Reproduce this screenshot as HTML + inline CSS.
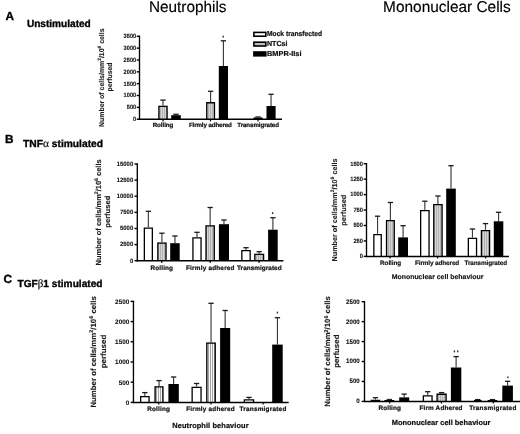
<!DOCTYPE html>
<html><head><meta charset="utf-8"><style>
html,body{margin:0;padding:0;background:#fff;}
body{width:520px;height:434px;overflow:hidden;}
svg{display:block;font-family:"Liberation Sans", sans-serif;filter:blur(0.35px);text-rendering:geometricPrecision;}
</style></head><body>
<svg width="520" height="434" viewBox="0 0 520 434">
<defs>
<pattern id="hatchB" patternUnits="userSpaceOnUse" width="2" height="4"><rect width="2" height="4" fill="#d6d6d6"/><rect width="0.6" height="4" fill="#9a9a9a"/></pattern>
<pattern id="hatchC" patternUnits="userSpaceOnUse" width="2" height="4"><rect width="2" height="4" fill="#f8f8f8"/><rect width="0.6" height="4" fill="#707070"/></pattern>
</defs>
<rect width="520" height="434" fill="#fff"/>
<line x1="136.70" y1="119.20" x2="139.50" y2="119.20" stroke="#000" stroke-width="1.4"/>
<text x="136.20" y="121.06" font-size="6.2" text-anchor="end" font-weight="bold" fill="#111" textLength="3.15" lengthAdjust="spacingAndGlyphs" stroke="#111" stroke-width="0.1">0</text>
<line x1="136.70" y1="107.36" x2="139.50" y2="107.36" stroke="#000" stroke-width="1.4"/>
<text x="136.20" y="109.22" font-size="6.2" text-anchor="end" font-weight="bold" fill="#111" textLength="9.45" lengthAdjust="spacingAndGlyphs" stroke="#111" stroke-width="0.1">500</text>
<line x1="136.70" y1="95.51" x2="139.50" y2="95.51" stroke="#000" stroke-width="1.4"/>
<text x="136.20" y="97.37" font-size="6.2" text-anchor="end" font-weight="bold" fill="#111" textLength="12.60" lengthAdjust="spacingAndGlyphs" stroke="#111" stroke-width="0.1">1000</text>
<line x1="136.70" y1="83.67" x2="139.50" y2="83.67" stroke="#000" stroke-width="1.4"/>
<text x="136.20" y="85.53" font-size="6.2" text-anchor="end" font-weight="bold" fill="#111" textLength="12.60" lengthAdjust="spacingAndGlyphs" stroke="#111" stroke-width="0.1">1500</text>
<line x1="136.70" y1="71.83" x2="139.50" y2="71.83" stroke="#000" stroke-width="1.4"/>
<text x="136.20" y="73.69" font-size="6.2" text-anchor="end" font-weight="bold" fill="#111" textLength="12.60" lengthAdjust="spacingAndGlyphs" stroke="#111" stroke-width="0.1">2000</text>
<line x1="136.70" y1="59.99" x2="139.50" y2="59.99" stroke="#000" stroke-width="1.4"/>
<text x="136.20" y="61.85" font-size="6.2" text-anchor="end" font-weight="bold" fill="#111" textLength="12.60" lengthAdjust="spacingAndGlyphs" stroke="#111" stroke-width="0.1">2500</text>
<line x1="136.70" y1="48.14" x2="139.50" y2="48.14" stroke="#000" stroke-width="1.4"/>
<text x="136.20" y="50.00" font-size="6.2" text-anchor="end" font-weight="bold" fill="#111" textLength="12.60" lengthAdjust="spacingAndGlyphs" stroke="#111" stroke-width="0.1">3000</text>
<line x1="136.70" y1="36.30" x2="139.50" y2="36.30" stroke="#000" stroke-width="1.4"/>
<text x="136.20" y="38.16" font-size="6.2" text-anchor="end" font-weight="bold" fill="#111" textLength="12.60" lengthAdjust="spacingAndGlyphs" stroke="#111" stroke-width="0.1">3500</text>
<line x1="163.00" y1="105.70" x2="163.00" y2="100.10" stroke="#3a3a3a" stroke-width="1.15"/>
<line x1="160.35" y1="100.10" x2="165.65" y2="100.10" stroke="#1a1a1a" stroke-width="1.3"/>
<rect x="158.30" y="105.70" width="9.40" height="13.50" fill="url(#hatchB)"/>
<path d="M158.95 119.20V106.35H167.05V119.20" fill="none" stroke="#000" stroke-width="1.3"/>
<line x1="176.00" y1="115.20" x2="176.00" y2="114.30" stroke="#3a3a3a" stroke-width="1.15"/>
<line x1="173.35" y1="114.30" x2="178.65" y2="114.30" stroke="#1a1a1a" stroke-width="1.3"/>
<rect x="171.20" y="115.20" width="9.60" height="4.00" fill="#000"/>
<line x1="210.60" y1="102.10" x2="210.60" y2="91.30" stroke="#3a3a3a" stroke-width="1.15"/>
<line x1="207.95" y1="91.30" x2="213.25" y2="91.30" stroke="#1a1a1a" stroke-width="1.3"/>
<rect x="206.10" y="102.10" width="9.00" height="17.10" fill="url(#hatchB)"/>
<path d="M206.75 119.20V102.75H214.45V119.20" fill="none" stroke="#000" stroke-width="1.3"/>
<line x1="223.40" y1="66.00" x2="223.40" y2="40.80" stroke="#3a3a3a" stroke-width="1.15"/>
<line x1="220.75" y1="40.80" x2="226.05" y2="40.80" stroke="#1a1a1a" stroke-width="1.3"/>
<rect x="218.80" y="66.00" width="9.20" height="53.20" fill="#000"/>
<line x1="258.00" y1="117.60" x2="258.00" y2="117.00" stroke="#3a3a3a" stroke-width="1.15"/>
<line x1="255.35" y1="117.00" x2="260.65" y2="117.00" stroke="#1a1a1a" stroke-width="1.3"/>
<rect x="253.50" y="117.60" width="9.00" height="1.60" fill="url(#hatchB)"/>
<path d="M254.15 119.20V118.25H261.85V119.20" fill="none" stroke="#000" stroke-width="1.3"/>
<line x1="271.05" y1="106.00" x2="271.05" y2="94.30" stroke="#3a3a3a" stroke-width="1.15"/>
<line x1="268.40" y1="94.30" x2="273.70" y2="94.30" stroke="#1a1a1a" stroke-width="1.3"/>
<rect x="266.50" y="106.00" width="9.10" height="13.20" fill="#000"/>
<line x1="139.50" y1="35.60" x2="139.50" y2="119.90" stroke="#000" stroke-width="1.35"/>
<line x1="138.80" y1="119.20" x2="282.00" y2="119.20" stroke="#000" stroke-width="1.5"/>
<line x1="163.00" y1="119.20" x2="163.00" y2="121.40" stroke="#000" stroke-width="1.2"/>
<line x1="210.50" y1="119.20" x2="210.50" y2="121.40" stroke="#000" stroke-width="1.2"/>
<line x1="258.00" y1="119.20" x2="258.00" y2="121.40" stroke="#000" stroke-width="1.2"/>
<text x="152.70" y="127.20" font-size="6.2" text-anchor="start" font-weight="bold" fill="#111" textLength="20.60" lengthAdjust="spacing" stroke="#111" stroke-width="0.22">Rolling</text>
<text x="188.90" y="127.20" font-size="6.2" text-anchor="start" font-weight="bold" fill="#111" textLength="42.90" lengthAdjust="spacing" stroke="#111" stroke-width="0.22">Firmly adhered</text>
<text x="237.30" y="127.20" font-size="6.2" text-anchor="start" font-weight="bold" fill="#111" textLength="41.70" lengthAdjust="spacing" stroke="#111" stroke-width="0.22">Transmigrated</text>
<ellipse cx="223.20" cy="36.70" rx="0.8" ry="1.15" fill="#3a3a3a"/>
<g transform="translate(101.40,77.70) rotate(-90)"><text x="0" y="2.52" font-size="7.0" font-weight="bold" text-anchor="middle" fill="#1a1a1a" stroke="#1a1a1a" stroke-width="0.12" textLength="98.50" lengthAdjust="spacingAndGlyphs">Number of cells/mm<tspan font-size="4.90" dy="-2.5">2</tspan><tspan dy="2.5">/10</tspan><tspan font-size="4.90" dy="-2.5">6</tspan><tspan dy="2.5"> cells</tspan></text></g>
<g transform="translate(109.80,77.00) rotate(-90)"><text x="0" y="2.52" font-size="7.0" font-weight="bold" text-anchor="middle" fill="#1a1a1a" stroke="#1a1a1a" stroke-width="0.12" textLength="29.00" lengthAdjust="spacingAndGlyphs">perfused</text></g>
<line x1="134.50" y1="260.70" x2="137.30" y2="260.70" stroke="#000" stroke-width="1.4"/>
<text x="133.20" y="262.56" font-size="6.2" text-anchor="end" font-weight="bold" fill="#111" textLength="3.30" lengthAdjust="spacingAndGlyphs" stroke="#111" stroke-width="0.1">0</text>
<line x1="134.50" y1="244.58" x2="137.30" y2="244.58" stroke="#000" stroke-width="1.4"/>
<text x="133.20" y="246.44" font-size="6.2" text-anchor="end" font-weight="bold" fill="#111" textLength="13.20" lengthAdjust="spacingAndGlyphs" stroke="#111" stroke-width="0.1">2500</text>
<line x1="134.50" y1="228.47" x2="137.30" y2="228.47" stroke="#000" stroke-width="1.4"/>
<text x="133.20" y="230.33" font-size="6.2" text-anchor="end" font-weight="bold" fill="#111" textLength="13.20" lengthAdjust="spacingAndGlyphs" stroke="#111" stroke-width="0.1">5000</text>
<line x1="134.50" y1="212.35" x2="137.30" y2="212.35" stroke="#000" stroke-width="1.4"/>
<text x="133.20" y="214.21" font-size="6.2" text-anchor="end" font-weight="bold" fill="#111" textLength="13.20" lengthAdjust="spacingAndGlyphs" stroke="#111" stroke-width="0.1">7500</text>
<line x1="134.50" y1="196.23" x2="137.30" y2="196.23" stroke="#000" stroke-width="1.4"/>
<text x="133.20" y="198.09" font-size="6.2" text-anchor="end" font-weight="bold" fill="#111" textLength="16.50" lengthAdjust="spacingAndGlyphs" stroke="#111" stroke-width="0.1">10000</text>
<line x1="134.50" y1="180.12" x2="137.30" y2="180.12" stroke="#000" stroke-width="1.4"/>
<text x="133.20" y="181.98" font-size="6.2" text-anchor="end" font-weight="bold" fill="#111" textLength="16.50" lengthAdjust="spacingAndGlyphs" stroke="#111" stroke-width="0.1">12500</text>
<line x1="134.50" y1="164.00" x2="137.30" y2="164.00" stroke="#000" stroke-width="1.4"/>
<text x="133.20" y="165.86" font-size="6.2" text-anchor="end" font-weight="bold" fill="#111" textLength="16.50" lengthAdjust="spacingAndGlyphs" stroke="#111" stroke-width="0.1">15000</text>
<line x1="148.35" y1="227.50" x2="148.35" y2="211.30" stroke="#3a3a3a" stroke-width="1.15"/>
<line x1="145.70" y1="211.30" x2="151.00" y2="211.30" stroke="#1a1a1a" stroke-width="1.3"/>
<rect x="143.70" y="227.50" width="9.30" height="33.20" fill="#fff"/>
<path d="M144.35 260.70V228.15H152.35V260.70" fill="none" stroke="#000" stroke-width="1.3"/>
<line x1="161.90" y1="242.40" x2="161.90" y2="233.20" stroke="#3a3a3a" stroke-width="1.15"/>
<line x1="159.25" y1="233.20" x2="164.55" y2="233.20" stroke="#1a1a1a" stroke-width="1.3"/>
<rect x="157.20" y="242.40" width="9.40" height="18.30" fill="url(#hatchB)"/>
<path d="M157.85 260.70V243.05H165.95V260.70" fill="none" stroke="#000" stroke-width="1.3"/>
<line x1="174.95" y1="243.20" x2="174.95" y2="236.00" stroke="#3a3a3a" stroke-width="1.15"/>
<line x1="172.30" y1="236.00" x2="177.60" y2="236.00" stroke="#1a1a1a" stroke-width="1.3"/>
<rect x="170.20" y="243.20" width="9.50" height="17.50" fill="#000"/>
<line x1="197.00" y1="237.20" x2="197.00" y2="232.30" stroke="#3a3a3a" stroke-width="1.15"/>
<line x1="194.35" y1="232.30" x2="199.65" y2="232.30" stroke="#1a1a1a" stroke-width="1.3"/>
<rect x="192.30" y="237.20" width="9.40" height="23.50" fill="#fff"/>
<path d="M192.95 260.70V237.85H201.05V260.70" fill="none" stroke="#000" stroke-width="1.3"/>
<line x1="210.15" y1="225.20" x2="210.15" y2="207.50" stroke="#3a3a3a" stroke-width="1.15"/>
<line x1="207.50" y1="207.50" x2="212.80" y2="207.50" stroke="#1a1a1a" stroke-width="1.3"/>
<rect x="205.40" y="225.20" width="9.50" height="35.50" fill="url(#hatchB)"/>
<path d="M206.05 260.70V225.85H214.25V260.70" fill="none" stroke="#000" stroke-width="1.3"/>
<line x1="223.95" y1="224.20" x2="223.95" y2="220.00" stroke="#3a3a3a" stroke-width="1.15"/>
<line x1="221.30" y1="220.00" x2="226.60" y2="220.00" stroke="#1a1a1a" stroke-width="1.3"/>
<rect x="218.90" y="224.20" width="10.10" height="36.50" fill="#000"/>
<line x1="246.00" y1="250.00" x2="246.00" y2="247.70" stroke="#3a3a3a" stroke-width="1.15"/>
<line x1="243.35" y1="247.70" x2="248.65" y2="247.70" stroke="#1a1a1a" stroke-width="1.3"/>
<rect x="241.20" y="250.00" width="9.60" height="10.70" fill="#fff"/>
<path d="M241.85 260.70V250.65H250.15V260.70" fill="none" stroke="#000" stroke-width="1.3"/>
<line x1="259.20" y1="253.70" x2="259.20" y2="251.70" stroke="#3a3a3a" stroke-width="1.15"/>
<line x1="256.55" y1="251.70" x2="261.85" y2="251.70" stroke="#1a1a1a" stroke-width="1.3"/>
<rect x="254.20" y="253.70" width="10.00" height="7.00" fill="url(#hatchB)"/>
<path d="M254.85 260.70V254.35H263.55V260.70" fill="none" stroke="#000" stroke-width="1.3"/>
<line x1="272.90" y1="229.70" x2="272.90" y2="217.70" stroke="#3a3a3a" stroke-width="1.15"/>
<line x1="270.25" y1="217.70" x2="275.55" y2="217.70" stroke="#1a1a1a" stroke-width="1.3"/>
<rect x="268.10" y="229.70" width="9.60" height="31.00" fill="#000"/>
<line x1="137.30" y1="163.30" x2="137.30" y2="261.40" stroke="#000" stroke-width="1.35"/>
<line x1="136.60" y1="260.70" x2="283.40" y2="260.70" stroke="#000" stroke-width="1.5"/>
<line x1="161.70" y1="260.70" x2="161.70" y2="262.90" stroke="#000" stroke-width="1.2"/>
<line x1="210.20" y1="260.70" x2="210.20" y2="262.90" stroke="#000" stroke-width="1.2"/>
<line x1="259.10" y1="260.70" x2="259.10" y2="262.90" stroke="#000" stroke-width="1.2"/>
<text x="150.50" y="269.50" font-size="6.4" text-anchor="start" font-weight="bold" fill="#111" textLength="22.50" lengthAdjust="spacing" stroke="#111" stroke-width="0.22">Rolling</text>
<text x="186.00" y="269.50" font-size="6.4" text-anchor="start" font-weight="bold" fill="#111" textLength="48.50" lengthAdjust="spacing" stroke="#111" stroke-width="0.22">Firmly adhered</text>
<text x="237.00" y="269.50" font-size="6.4" text-anchor="start" font-weight="bold" fill="#111" textLength="44.60" lengthAdjust="spacing" stroke="#111" stroke-width="0.22">Transmigrated</text>
<ellipse cx="272.60" cy="213.20" rx="0.8" ry="1.15" fill="#3a3a3a"/>
<g transform="translate(97.90,212.40) rotate(-90)"><text x="0" y="2.66" font-size="7.4" font-weight="bold" text-anchor="middle" fill="#1a1a1a" stroke="#1a1a1a" stroke-width="0.12" textLength="106.00" lengthAdjust="spacingAndGlyphs">Number of cells/mm<tspan font-size="5.18" dy="-2.5">2</tspan><tspan dy="2.5">/10</tspan><tspan font-size="5.18" dy="-2.5">6</tspan><tspan dy="2.5"> cells</tspan></text></g>
<g transform="translate(107.30,211.70) rotate(-90)"><text x="0" y="2.66" font-size="7.4" font-weight="bold" text-anchor="middle" fill="#1a1a1a" stroke="#1a1a1a" stroke-width="0.12" textLength="32.00" lengthAdjust="spacingAndGlyphs">perfused</text></g>
<line x1="363.70" y1="256.40" x2="366.50" y2="256.40" stroke="#000" stroke-width="1.4"/>
<text x="363.00" y="258.26" font-size="6.2" text-anchor="end" font-weight="bold" fill="#111" textLength="3.20" lengthAdjust="spacingAndGlyphs" stroke="#111" stroke-width="0.1">0</text>
<line x1="363.70" y1="240.95" x2="366.50" y2="240.95" stroke="#000" stroke-width="1.4"/>
<text x="363.00" y="242.81" font-size="6.2" text-anchor="end" font-weight="bold" fill="#111" textLength="9.60" lengthAdjust="spacingAndGlyphs" stroke="#111" stroke-width="0.1">250</text>
<line x1="363.70" y1="225.50" x2="366.50" y2="225.50" stroke="#000" stroke-width="1.4"/>
<text x="363.00" y="227.36" font-size="6.2" text-anchor="end" font-weight="bold" fill="#111" textLength="9.60" lengthAdjust="spacingAndGlyphs" stroke="#111" stroke-width="0.1">500</text>
<line x1="363.70" y1="210.05" x2="366.50" y2="210.05" stroke="#000" stroke-width="1.4"/>
<text x="363.00" y="211.91" font-size="6.2" text-anchor="end" font-weight="bold" fill="#111" textLength="9.60" lengthAdjust="spacingAndGlyphs" stroke="#111" stroke-width="0.1">750</text>
<line x1="363.70" y1="194.60" x2="366.50" y2="194.60" stroke="#000" stroke-width="1.4"/>
<text x="363.00" y="196.46" font-size="6.2" text-anchor="end" font-weight="bold" fill="#111" textLength="12.80" lengthAdjust="spacingAndGlyphs" stroke="#111" stroke-width="0.1">1000</text>
<line x1="363.70" y1="179.15" x2="366.50" y2="179.15" stroke="#000" stroke-width="1.4"/>
<text x="363.00" y="181.01" font-size="6.2" text-anchor="end" font-weight="bold" fill="#111" textLength="12.80" lengthAdjust="spacingAndGlyphs" stroke="#111" stroke-width="0.1">1250</text>
<line x1="363.70" y1="163.70" x2="366.50" y2="163.70" stroke="#000" stroke-width="1.4"/>
<text x="363.00" y="165.56" font-size="6.2" text-anchor="end" font-weight="bold" fill="#111" textLength="12.80" lengthAdjust="spacingAndGlyphs" stroke="#111" stroke-width="0.1">1500</text>
<line x1="377.55" y1="233.90" x2="377.55" y2="216.20" stroke="#3a3a3a" stroke-width="1.15"/>
<line x1="374.90" y1="216.20" x2="380.20" y2="216.20" stroke="#1a1a1a" stroke-width="1.3"/>
<rect x="373.20" y="233.90" width="8.70" height="22.50" fill="#fff"/>
<path d="M373.85 256.40V234.55H381.25V256.40" fill="none" stroke="#000" stroke-width="1.3"/>
<line x1="390.40" y1="220.00" x2="390.40" y2="202.50" stroke="#3a3a3a" stroke-width="1.15"/>
<line x1="387.75" y1="202.50" x2="393.05" y2="202.50" stroke="#1a1a1a" stroke-width="1.3"/>
<rect x="385.90" y="220.00" width="9.00" height="36.40" fill="url(#hatchB)"/>
<path d="M386.55 256.40V220.65H394.25V256.40" fill="none" stroke="#000" stroke-width="1.3"/>
<line x1="403.10" y1="237.40" x2="403.10" y2="225.70" stroke="#3a3a3a" stroke-width="1.15"/>
<line x1="400.45" y1="225.70" x2="405.75" y2="225.70" stroke="#1a1a1a" stroke-width="1.3"/>
<rect x="398.20" y="237.40" width="9.80" height="19.00" fill="#000"/>
<line x1="424.85" y1="209.90" x2="424.85" y2="201.20" stroke="#3a3a3a" stroke-width="1.15"/>
<line x1="422.20" y1="201.20" x2="427.50" y2="201.20" stroke="#1a1a1a" stroke-width="1.3"/>
<rect x="420.00" y="209.90" width="9.70" height="46.50" fill="#fff"/>
<path d="M420.65 256.40V210.55H429.05V256.40" fill="none" stroke="#000" stroke-width="1.3"/>
<line x1="437.90" y1="203.90" x2="437.90" y2="196.00" stroke="#3a3a3a" stroke-width="1.15"/>
<line x1="435.25" y1="196.00" x2="440.55" y2="196.00" stroke="#1a1a1a" stroke-width="1.3"/>
<rect x="433.10" y="203.90" width="9.60" height="52.50" fill="url(#hatchB)"/>
<path d="M433.75 256.40V204.55H442.05V256.40" fill="none" stroke="#000" stroke-width="1.3"/>
<line x1="451.00" y1="188.60" x2="451.00" y2="165.70" stroke="#3a3a3a" stroke-width="1.15"/>
<line x1="448.35" y1="165.70" x2="453.65" y2="165.70" stroke="#1a1a1a" stroke-width="1.3"/>
<rect x="446.20" y="188.60" width="9.60" height="67.80" fill="#000"/>
<line x1="472.45" y1="237.70" x2="472.45" y2="229.00" stroke="#3a3a3a" stroke-width="1.15"/>
<line x1="469.80" y1="229.00" x2="475.10" y2="229.00" stroke="#1a1a1a" stroke-width="1.3"/>
<rect x="467.70" y="237.70" width="9.50" height="18.70" fill="#fff"/>
<path d="M468.35 256.40V238.35H476.55V256.40" fill="none" stroke="#000" stroke-width="1.3"/>
<line x1="485.50" y1="229.90" x2="485.50" y2="223.60" stroke="#3a3a3a" stroke-width="1.15"/>
<line x1="482.85" y1="223.60" x2="488.15" y2="223.60" stroke="#1a1a1a" stroke-width="1.3"/>
<rect x="480.80" y="229.90" width="9.40" height="26.50" fill="url(#hatchB)"/>
<path d="M481.45 256.40V230.55H489.55V256.40" fill="none" stroke="#000" stroke-width="1.3"/>
<line x1="498.55" y1="221.30" x2="498.55" y2="212.30" stroke="#3a3a3a" stroke-width="1.15"/>
<line x1="495.90" y1="212.30" x2="501.20" y2="212.30" stroke="#1a1a1a" stroke-width="1.3"/>
<rect x="493.80" y="221.30" width="9.50" height="35.10" fill="#000"/>
<line x1="366.50" y1="163.00" x2="366.50" y2="257.10" stroke="#000" stroke-width="1.35"/>
<line x1="365.80" y1="256.40" x2="508.90" y2="256.40" stroke="#000" stroke-width="1.5"/>
<line x1="390.10" y1="256.40" x2="390.10" y2="258.60" stroke="#000" stroke-width="1.2"/>
<line x1="437.60" y1="256.40" x2="437.60" y2="258.60" stroke="#000" stroke-width="1.2"/>
<line x1="485.70" y1="256.40" x2="485.70" y2="258.60" stroke="#000" stroke-width="1.2"/>
<text x="380.00" y="265.40" font-size="6.4" text-anchor="start" font-weight="bold" fill="#111" textLength="21.25" lengthAdjust="spacing" stroke="#111" stroke-width="0.15">Rolling</text>
<text x="415.00" y="265.40" font-size="6.4" text-anchor="start" font-weight="bold" fill="#111" textLength="44.25" lengthAdjust="spacing" stroke="#111" stroke-width="0.15">Firmly adhered</text>
<text x="464.50" y="265.40" font-size="6.4" text-anchor="start" font-weight="bold" fill="#111" textLength="42.60" lengthAdjust="spacing" stroke="#111" stroke-width="0.15">Transmigrated</text>
<g transform="translate(334.10,210.00) rotate(-90)"><text x="0" y="2.59" font-size="7.2" font-weight="bold" text-anchor="middle" fill="#1a1a1a" stroke="#1a1a1a" stroke-width="0.12" textLength="103.00" lengthAdjust="spacingAndGlyphs">Number of cells/mm<tspan font-size="5.04" dy="-2.5">2</tspan><tspan dy="2.5">/10</tspan><tspan font-size="5.04" dy="-2.5">6</tspan><tspan dy="2.5"> cells</tspan></text></g>
<g transform="translate(343.10,210.20) rotate(-90)"><text x="0" y="2.59" font-size="7.2" font-weight="bold" text-anchor="middle" fill="#1a1a1a" stroke="#1a1a1a" stroke-width="0.12" textLength="31.00" lengthAdjust="spacingAndGlyphs">perfused</text></g>
<text x="391.70" y="279.00" font-size="6.9" text-anchor="start" font-weight="bold" fill="#111" textLength="91.70" lengthAdjust="spacing" stroke="#111" stroke-width="0.15">Mononuclear cell behaviour</text>
<line x1="130.65" y1="402.40" x2="133.45" y2="402.40" stroke="#000" stroke-width="1.4"/>
<text x="129.30" y="404.85" font-size="6.5" text-anchor="end" font-weight="bold" fill="#111" textLength="3.55" lengthAdjust="spacingAndGlyphs" stroke="#111" stroke-width="0.1">0</text>
<line x1="130.65" y1="382.20" x2="133.45" y2="382.20" stroke="#000" stroke-width="1.4"/>
<text x="129.30" y="384.65" font-size="6.5" text-anchor="end" font-weight="bold" fill="#111" textLength="10.65" lengthAdjust="spacingAndGlyphs" stroke="#111" stroke-width="0.1">500</text>
<line x1="130.65" y1="362.00" x2="133.45" y2="362.00" stroke="#000" stroke-width="1.4"/>
<text x="129.30" y="364.45" font-size="6.5" text-anchor="end" font-weight="bold" fill="#111" textLength="14.20" lengthAdjust="spacingAndGlyphs" stroke="#111" stroke-width="0.1">1000</text>
<line x1="130.65" y1="341.80" x2="133.45" y2="341.80" stroke="#000" stroke-width="1.4"/>
<text x="129.30" y="344.25" font-size="6.5" text-anchor="end" font-weight="bold" fill="#111" textLength="14.20" lengthAdjust="spacingAndGlyphs" stroke="#111" stroke-width="0.1">1500</text>
<line x1="130.65" y1="321.60" x2="133.45" y2="321.60" stroke="#000" stroke-width="1.4"/>
<text x="129.30" y="324.05" font-size="6.5" text-anchor="end" font-weight="bold" fill="#111" textLength="14.20" lengthAdjust="spacingAndGlyphs" stroke="#111" stroke-width="0.1">2000</text>
<line x1="130.65" y1="301.40" x2="133.45" y2="301.40" stroke="#000" stroke-width="1.4"/>
<text x="129.30" y="303.85" font-size="6.5" text-anchor="end" font-weight="bold" fill="#111" textLength="14.20" lengthAdjust="spacingAndGlyphs" stroke="#111" stroke-width="0.1">2500</text>
<line x1="144.85" y1="395.90" x2="144.85" y2="392.60" stroke="#3a3a3a" stroke-width="1.15"/>
<line x1="142.20" y1="392.60" x2="147.50" y2="392.60" stroke="#1a1a1a" stroke-width="1.3"/>
<rect x="140.00" y="395.90" width="9.70" height="6.50" fill="#fff"/>
<path d="M140.65 402.40V396.55H149.05V402.40" fill="none" stroke="#000" stroke-width="1.3"/>
<line x1="159.05" y1="386.20" x2="159.05" y2="380.60" stroke="#3a3a3a" stroke-width="1.15"/>
<line x1="156.40" y1="380.60" x2="161.70" y2="380.60" stroke="#1a1a1a" stroke-width="1.3"/>
<rect x="154.50" y="386.20" width="9.10" height="16.20" fill="url(#hatchC)"/>
<path d="M155.15 402.40V386.85H162.95V402.40" fill="none" stroke="#000" stroke-width="1.3"/>
<line x1="173.60" y1="384.00" x2="173.60" y2="377.00" stroke="#3a3a3a" stroke-width="1.15"/>
<line x1="170.95" y1="377.00" x2="176.25" y2="377.00" stroke="#1a1a1a" stroke-width="1.3"/>
<rect x="168.40" y="384.00" width="10.40" height="18.40" fill="#000"/>
<line x1="196.60" y1="386.80" x2="196.60" y2="383.50" stroke="#3a3a3a" stroke-width="1.15"/>
<line x1="193.95" y1="383.50" x2="199.25" y2="383.50" stroke="#1a1a1a" stroke-width="1.3"/>
<rect x="191.50" y="386.80" width="10.20" height="15.60" fill="#fff"/>
<path d="M192.15 402.40V387.45H201.05V402.40" fill="none" stroke="#000" stroke-width="1.3"/>
<line x1="211.05" y1="342.40" x2="211.05" y2="303.30" stroke="#3a3a3a" stroke-width="1.15"/>
<line x1="208.40" y1="303.30" x2="213.70" y2="303.30" stroke="#1a1a1a" stroke-width="1.3"/>
<rect x="206.20" y="342.40" width="9.70" height="60.00" fill="url(#hatchC)"/>
<path d="M206.85 402.40V343.05H215.25V402.40" fill="none" stroke="#000" stroke-width="1.3"/>
<line x1="225.15" y1="328.00" x2="225.15" y2="310.50" stroke="#3a3a3a" stroke-width="1.15"/>
<line x1="222.50" y1="310.50" x2="227.80" y2="310.50" stroke="#1a1a1a" stroke-width="1.3"/>
<rect x="220.10" y="328.00" width="10.10" height="74.40" fill="#000"/>
<line x1="248.95" y1="399.20" x2="248.95" y2="397.40" stroke="#3a3a3a" stroke-width="1.15"/>
<line x1="246.30" y1="397.40" x2="251.60" y2="397.40" stroke="#1a1a1a" stroke-width="1.3"/>
<rect x="243.70" y="399.20" width="10.50" height="3.20" fill="#fff"/>
<path d="M244.35 402.40V399.85H253.55V402.40" fill="none" stroke="#000" stroke-width="1.3"/>
<line x1="277.45" y1="344.60" x2="277.45" y2="317.70" stroke="#3a3a3a" stroke-width="1.15"/>
<line x1="274.80" y1="317.70" x2="280.10" y2="317.70" stroke="#1a1a1a" stroke-width="1.3"/>
<rect x="272.20" y="344.60" width="10.50" height="57.80" fill="#000"/>
<line x1="133.45" y1="300.70" x2="133.45" y2="403.10" stroke="#000" stroke-width="1.35"/>
<line x1="132.75" y1="402.40" x2="288.70" y2="402.40" stroke="#000" stroke-width="1.5"/>
<line x1="158.70" y1="402.40" x2="158.70" y2="404.60" stroke="#000" stroke-width="1.2"/>
<line x1="211.00" y1="402.40" x2="211.00" y2="404.60" stroke="#000" stroke-width="1.2"/>
<line x1="263.20" y1="402.40" x2="263.20" y2="404.60" stroke="#000" stroke-width="1.2"/>
<text x="147.20" y="411.40" font-size="6.4" text-anchor="start" font-weight="bold" fill="#111" textLength="22.70" lengthAdjust="spacing" stroke="#111" stroke-width="0.22">Rolling</text>
<text x="186.20" y="411.40" font-size="6.4" text-anchor="start" font-weight="bold" fill="#111" textLength="48.40" lengthAdjust="spacing" stroke="#111" stroke-width="0.22">Firmly adhered</text>
<text x="239.50" y="411.40" font-size="6.4" text-anchor="start" font-weight="bold" fill="#111" textLength="46.80" lengthAdjust="spacing" stroke="#111" stroke-width="0.22">Transmigrated</text>
<ellipse cx="277.40" cy="312.70" rx="0.8" ry="1.15" fill="#3a3a3a"/>
<g transform="translate(92.90,351.90) rotate(-90)"><text x="0" y="2.74" font-size="7.6" font-weight="bold" text-anchor="middle" fill="#1a1a1a" stroke="#1a1a1a" stroke-width="0.12" textLength="111.40" lengthAdjust="spacingAndGlyphs">Number of cells/mm<tspan font-size="5.32" dy="-2.5">2</tspan><tspan dy="2.5">/10</tspan><tspan font-size="5.32" dy="-2.5">6</tspan><tspan dy="2.5"> cells</tspan></text></g>
<g transform="translate(103.00,351.50) rotate(-90)"><text x="0" y="2.74" font-size="7.6" font-weight="bold" text-anchor="middle" fill="#1a1a1a" stroke="#1a1a1a" stroke-width="0.12" textLength="33.50" lengthAdjust="spacingAndGlyphs">perfused</text></g>
<text x="172.30" y="427.80" font-size="7.4" text-anchor="start" font-weight="bold" fill="#111" textLength="76.30" lengthAdjust="spacing" stroke="#111" stroke-width="0.22">Neutrophil behaviour</text>
<line x1="361.70" y1="401.40" x2="364.50" y2="401.40" stroke="#000" stroke-width="1.4"/>
<text x="359.70" y="403.32" font-size="6.4" text-anchor="end" font-weight="bold" fill="#111" textLength="3.40" lengthAdjust="spacingAndGlyphs" stroke="#111" stroke-width="0.1">0</text>
<line x1="361.70" y1="381.46" x2="364.50" y2="381.46" stroke="#000" stroke-width="1.4"/>
<text x="359.70" y="383.38" font-size="6.4" text-anchor="end" font-weight="bold" fill="#111" textLength="10.20" lengthAdjust="spacingAndGlyphs" stroke="#111" stroke-width="0.1">500</text>
<line x1="361.70" y1="361.52" x2="364.50" y2="361.52" stroke="#000" stroke-width="1.4"/>
<text x="359.70" y="363.44" font-size="6.4" text-anchor="end" font-weight="bold" fill="#111" textLength="13.60" lengthAdjust="spacingAndGlyphs" stroke="#111" stroke-width="0.1">1000</text>
<line x1="361.70" y1="341.58" x2="364.50" y2="341.58" stroke="#000" stroke-width="1.4"/>
<text x="359.70" y="343.50" font-size="6.4" text-anchor="end" font-weight="bold" fill="#111" textLength="13.60" lengthAdjust="spacingAndGlyphs" stroke="#111" stroke-width="0.1">1500</text>
<line x1="361.70" y1="321.64" x2="364.50" y2="321.64" stroke="#000" stroke-width="1.4"/>
<text x="359.70" y="323.56" font-size="6.4" text-anchor="end" font-weight="bold" fill="#111" textLength="13.60" lengthAdjust="spacingAndGlyphs" stroke="#111" stroke-width="0.1">2000</text>
<line x1="361.70" y1="301.70" x2="364.50" y2="301.70" stroke="#000" stroke-width="1.4"/>
<text x="359.70" y="303.62" font-size="6.4" text-anchor="end" font-weight="bold" fill="#111" textLength="13.60" lengthAdjust="spacingAndGlyphs" stroke="#111" stroke-width="0.1">2500</text>
<line x1="375.45" y1="399.70" x2="375.45" y2="397.70" stroke="#3a3a3a" stroke-width="1.15"/>
<line x1="372.80" y1="397.70" x2="378.10" y2="397.70" stroke="#1a1a1a" stroke-width="1.3"/>
<rect x="370.70" y="399.70" width="9.50" height="1.70" fill="#fff"/>
<path d="M371.35 401.40V400.35H379.55V401.40" fill="none" stroke="#000" stroke-width="1.3"/>
<line x1="389.35" y1="399.90" x2="389.35" y2="399.50" stroke="#3a3a3a" stroke-width="1.15"/>
<line x1="386.70" y1="399.50" x2="392.00" y2="399.50" stroke="#1a1a1a" stroke-width="1.3"/>
<rect x="384.50" y="399.90" width="9.70" height="1.50" fill="url(#hatchB)"/>
<path d="M385.15 401.40V400.55H393.55V401.40" fill="none" stroke="#000" stroke-width="1.3"/>
<line x1="404.20" y1="397.40" x2="404.20" y2="394.10" stroke="#3a3a3a" stroke-width="1.15"/>
<line x1="401.55" y1="394.10" x2="406.85" y2="394.10" stroke="#1a1a1a" stroke-width="1.3"/>
<rect x="399.20" y="397.40" width="10.00" height="4.00" fill="#000"/>
<line x1="427.70" y1="395.20" x2="427.70" y2="391.70" stroke="#3a3a3a" stroke-width="1.15"/>
<line x1="425.05" y1="391.70" x2="430.35" y2="391.70" stroke="#1a1a1a" stroke-width="1.3"/>
<rect x="422.70" y="395.20" width="10.00" height="6.20" fill="#fff"/>
<path d="M423.35 401.40V395.85H432.05V401.40" fill="none" stroke="#000" stroke-width="1.3"/>
<line x1="441.60" y1="393.60" x2="441.60" y2="392.60" stroke="#3a3a3a" stroke-width="1.15"/>
<line x1="438.95" y1="392.60" x2="444.25" y2="392.60" stroke="#1a1a1a" stroke-width="1.3"/>
<rect x="436.50" y="393.60" width="10.20" height="7.80" fill="url(#hatchB)"/>
<path d="M437.15 401.40V394.25H446.05V401.40" fill="none" stroke="#000" stroke-width="1.3"/>
<line x1="456.10" y1="367.50" x2="456.10" y2="356.60" stroke="#3a3a3a" stroke-width="1.15"/>
<line x1="453.45" y1="356.60" x2="458.75" y2="356.60" stroke="#1a1a1a" stroke-width="1.3"/>
<rect x="450.90" y="367.50" width="10.40" height="33.90" fill="#000"/>
<line x1="477.75" y1="400.00" x2="477.75" y2="399.60" stroke="#3a3a3a" stroke-width="1.15"/>
<line x1="475.10" y1="399.60" x2="480.40" y2="399.60" stroke="#1a1a1a" stroke-width="1.3"/>
<rect x="473.90" y="400.00" width="7.70" height="1.40" fill="#fff"/>
<path d="M474.55 401.40V400.65H480.95V401.40" fill="none" stroke="#000" stroke-width="1.3"/>
<line x1="492.45" y1="400.00" x2="492.45" y2="399.60" stroke="#3a3a3a" stroke-width="1.15"/>
<line x1="489.80" y1="399.60" x2="495.10" y2="399.60" stroke="#1a1a1a" stroke-width="1.3"/>
<rect x="487.70" y="400.00" width="9.50" height="1.40" fill="url(#hatchB)"/>
<path d="M488.35 401.40V400.65H496.55V401.40" fill="none" stroke="#000" stroke-width="1.3"/>
<line x1="507.60" y1="385.60" x2="507.60" y2="381.30" stroke="#3a3a3a" stroke-width="1.15"/>
<line x1="504.95" y1="381.30" x2="510.25" y2="381.30" stroke="#1a1a1a" stroke-width="1.3"/>
<rect x="502.30" y="385.60" width="10.60" height="15.80" fill="#000"/>
<line x1="364.50" y1="301.00" x2="364.50" y2="402.10" stroke="#000" stroke-width="1.35"/>
<line x1="363.80" y1="401.40" x2="520.00" y2="401.40" stroke="#000" stroke-width="1.5"/>
<line x1="389.70" y1="401.40" x2="389.70" y2="403.60" stroke="#000" stroke-width="1.2"/>
<line x1="441.40" y1="401.40" x2="441.40" y2="403.60" stroke="#000" stroke-width="1.2"/>
<line x1="493.30" y1="401.40" x2="493.30" y2="403.60" stroke="#000" stroke-width="1.2"/>
<text x="378.50" y="409.90" font-size="6.4" text-anchor="start" font-weight="bold" fill="#111" textLength="22.40" lengthAdjust="spacing" stroke="#111" stroke-width="0.22">Rolling</text>
<text x="419.40" y="409.90" font-size="6.4" text-anchor="start" font-weight="bold" fill="#111" textLength="43.10" lengthAdjust="spacing" stroke="#111" stroke-width="0.22">Firm Adhered</text>
<text x="469.20" y="409.90" font-size="6.4" text-anchor="start" font-weight="bold" fill="#111" textLength="47.10" lengthAdjust="spacing" stroke="#111" stroke-width="0.22">Transmigrated</text>
<ellipse cx="454.45" cy="351.40" rx="0.8" ry="1.15" fill="#3a3a3a"/>
<ellipse cx="457.75" cy="351.40" rx="0.8" ry="1.15" fill="#3a3a3a"/>
<ellipse cx="507.90" cy="377.30" rx="0.8" ry="1.15" fill="#3a3a3a"/>
<g transform="translate(327.60,351.40) rotate(-90)"><text x="0" y="2.74" font-size="7.6" font-weight="bold" text-anchor="middle" fill="#1a1a1a" stroke="#1a1a1a" stroke-width="0.12" textLength="110.50" lengthAdjust="spacingAndGlyphs">Number of cells/mm<tspan font-size="5.32" dy="-2.5">2</tspan><tspan dy="2.5">/10</tspan><tspan font-size="5.32" dy="-2.5">6</tspan><tspan dy="2.5"> cells</tspan></text></g>
<g transform="translate(336.00,351.20) rotate(-90)"><text x="0" y="2.74" font-size="7.6" font-weight="bold" text-anchor="middle" fill="#1a1a1a" stroke="#1a1a1a" stroke-width="0.12" textLength="33.30" lengthAdjust="spacingAndGlyphs">perfused</text></g>
<text x="391.80" y="425.40" font-size="7.4" text-anchor="start" font-weight="bold" fill="#111" textLength="98.60" lengthAdjust="spacing" stroke="#111" stroke-width="0.22">Mononuclear cell behaviour</text>
<text x="148.90" y="11.70" font-size="15.6" text-anchor="start" font-weight="normal" fill="#000" textLength="77.60" lengthAdjust="spacingAndGlyphs" stroke="#000" stroke-width="0.15">Neutrophils</text>
<text x="383.10" y="11.80" font-size="15.6" text-anchor="start" font-weight="normal" fill="#000" textLength="127.60" lengthAdjust="spacingAndGlyphs" stroke="#000" stroke-width="0.15">Mononuclear Cells</text>
<text x="5.50" y="20.10" font-size="11.8" text-anchor="start" font-weight="bold" fill="#000" stroke="#000" stroke-width="0.35">A</text>
<text x="26.90" y="26.50" font-size="10.2" text-anchor="start" font-weight="bold" fill="#000" textLength="63.90" lengthAdjust="spacingAndGlyphs" stroke="#000" stroke-width="0.35">Unstimulated</text>
<text x="4.90" y="142.70" font-size="11.8" text-anchor="start" font-weight="bold" fill="#000" stroke="#000" stroke-width="0.35">B</text>
<text x="23.00" y="147.20" font-size="10.2" text-anchor="start" font-weight="bold" fill="#000" textLength="80.00" lengthAdjust="spacingAndGlyphs" stroke="#000" stroke-width="0.35">TNF<tspan font-family="Liberation Serif" font-weight="normal" font-size="11.5" stroke-width="0.15">&#945;</tspan> stimulated</text>
<text x="3.60" y="283.10" font-size="11.8" text-anchor="start" font-weight="bold" fill="#000" stroke="#000" stroke-width="0.35">C</text>
<text x="17.50" y="286.60" font-size="10.2" text-anchor="start" font-weight="bold" fill="#000" textLength="85.00" lengthAdjust="spacingAndGlyphs" stroke="#000" stroke-width="0.35">TGF<tspan font-family="Liberation Serif" font-weight="normal" font-size="11" stroke-width="0.15">&#946;</tspan>1 stimulated</text>
<rect x="253.90" y="32.40" width="11.90" height="3.80" fill="#fff" stroke="#000" stroke-width="1.6"/>
<text x="267.00" y="36.30" font-size="7.2" text-anchor="start" font-weight="bold" fill="#111" textLength="55.00" lengthAdjust="spacingAndGlyphs" stroke="#111" stroke-width="0.22">Mock transfected</text>
<rect x="253.90" y="42.20" width="11.90" height="3.80" fill="#bdbdbd" stroke="#000" stroke-width="1.6"/>
<text x="267.00" y="46.10" font-size="7.2" text-anchor="start" font-weight="bold" fill="#111" textLength="20.50" lengthAdjust="spacingAndGlyphs" stroke="#111" stroke-width="0.22">NTCsi</text>
<rect x="253.10" y="51.20" width="13.50" height="5.40" fill="#000"/>
<text x="267.00" y="55.90" font-size="7.2" text-anchor="start" font-weight="bold" fill="#111" textLength="34.50" lengthAdjust="spacingAndGlyphs" stroke="#111" stroke-width="0.22">BMPR-IIsi</text>
</svg>
</body></html>
